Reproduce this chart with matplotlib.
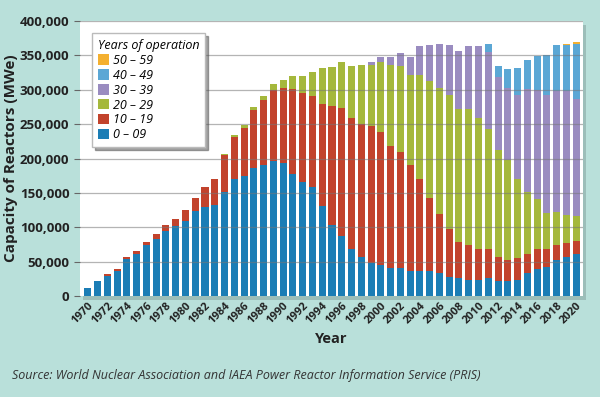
import numpy as np
import matplotlib.pyplot as plt
from matplotlib.ticker import FuncFormatter
from matplotlib.patches import Rectangle

years = np.arange(1970, 2021)

# capacity in thousand MWe, by years of operation
age_0_9 = [12, 22, 30, 37, 54, 62, 74, 83, 95, 102, 110, 124, 130, 132, 151, 170, 174,
           187, 191, 196, 194, 177, 166, 158, 131, 103, 87, 69, 57, 48, 45, 41, 41, 36,
           36, 36, 33, 28, 27, 24, 24, 27, 22, 22, 23, 34, 40, 43, 52, 57, 61]
age_10_19 = [0, 0, 1.5, 2, 3, 4, 5, 7, 9, 10, 15, 19, 28, 38, 54, 61, 71, 83, 94, 104,
             109, 124, 129, 133, 149, 173, 186, 190, 194, 199, 194, 178, 169, 154, 134,
             107, 86, 69, 52, 50, 44, 41, 35, 30, 33, 28, 29, 26, 23, 21, 19]
age_20_29 = [0, 0, 0, 0, 0, 0, 0, 0, 0, 0, 0, 0, 0, 1, 1.5, 3, 4, 5, 6, 8, 11, 19, 25,
             35, 52, 57, 67, 76, 85, 89, 102, 117, 125, 131, 151, 170, 183, 196, 193,
             198, 191, 175, 156, 146, 115, 89, 72, 52, 48, 40, 36]
age_30_39 = [0] * 29 + [4, 7, 12, 18, 27, 43, 52, 65, 72, 84, 92, 105, 112, 105, 104,
                        122, 150, 159, 171, 175, 180, 171]
age_40_49 = [0] * 41 + [12, 17, 28, 38, 42, 49, 59, 67, 67, 79]
age_50_59 = [0] * 49 + [1.5, 3]

series = [age_0_9, age_10_19, age_20_29, age_30_39, age_40_49, age_50_59]
labels = ["0 – 09", "10 – 19", "20 – 29", "30 – 39", "40 – 49", "50 – 59"]
colors = ["#1b7db5", "#c2432c", "#a5b83c", "#9a8cc0", "#5ba7d5", "#f4b030"]

bg = "#b9e0da"
plt.rcParams['font.family'] = ['Open Sans', 'DejaVu Sans']

fig = plt.figure(figsize=(6, 3.97), dpi=100, facecolor=bg)
ax = fig.add_axes([0.133, 0.254, 0.839, 0.693])

# drop shadow behind the plot area
fig.patches.append(Rectangle((0.138, 0.244), 0.839, 0.693, transform=fig.transFigure,
                             facecolor="#8aa8a3", edgecolor="none", alpha=0.6, zorder=-1))

bottom = np.zeros(len(years))
handles = []
for vals, lab, col in zip(series, labels, colors):
    v = np.array(vals, dtype=float) * 1000
    h = ax.bar(years, v, width=0.72, bottom=bottom, color=col, label=lab, zorder=2)
    handles.append(h)
    bottom += v

ax.set_facecolor("white")
ax.set_xlim(1970 - 0.82, 2020 + 0.72)
ax.set_ylim(0, 400000)
ax.set_yticks(np.arange(0, 400001, 50000))
ax.yaxis.set_major_formatter(FuncFormatter(lambda x, p: f"{int(x):,}"))
# grid sits faintly on top of the bars, like the original
for yv in np.arange(50000, 400001, 50000):
    ax.axhline(yv, color="#777777", linewidth=0.9, alpha=0.55, zorder=3)
for s in ax.spines.values():
    s.set_visible(False)

ax.set_xticks(years[::2])
ax.set_xticklabels([str(y) for y in years[::2]], rotation=45, ha="right",
                   rotation_mode="anchor", fontsize=8, fontweight="bold", color="#222222")
ax.tick_params(axis="x", length=0, pad=3)
ax.tick_params(axis="y", length=4, color="#666666", labelsize=9.5, labelcolor="#222222")
for t in ax.get_yticklabels():
    t.set_fontweight("bold")

ax.set_ylabel("Capacity of Reactors (MWe)", fontsize=11, fontweight="bold",
              color="#222222", labelpad=1)
ax.set_xlabel("Year", fontsize=10.5, fontweight="bold", color="#222222", labelpad=4)

leg = ax.legend(handles[::-1], labels[::-1], title="Years of operation",
                loc="upper left", bbox_to_anchor=(0.024, 0.955), borderaxespad=0,
                fontsize=9, title_fontsize=9, frameon=True, fancybox=False,
                handlelength=0.9, handleheight=0.9, handletextpad=0.3,
                labelspacing=0.15, borderpad=0.45, shadow=True)
leg.set_zorder(5)
leg.get_title().set_fontstyle("italic")
for t in leg.get_texts():
    t.set_fontstyle("italic")
leg.get_frame().set_edgecolor("#bbbbbb")
leg._legend_box.align = "left"

fig.text(0.02, 0.045, "Source: World Nuclear Association and IAEA Power Reactor Information Service (PRIS)",
         fontsize=9, fontstyle="italic", color="#333333")

fig.savefig("out.png", dpi=100, facecolor=bg)
